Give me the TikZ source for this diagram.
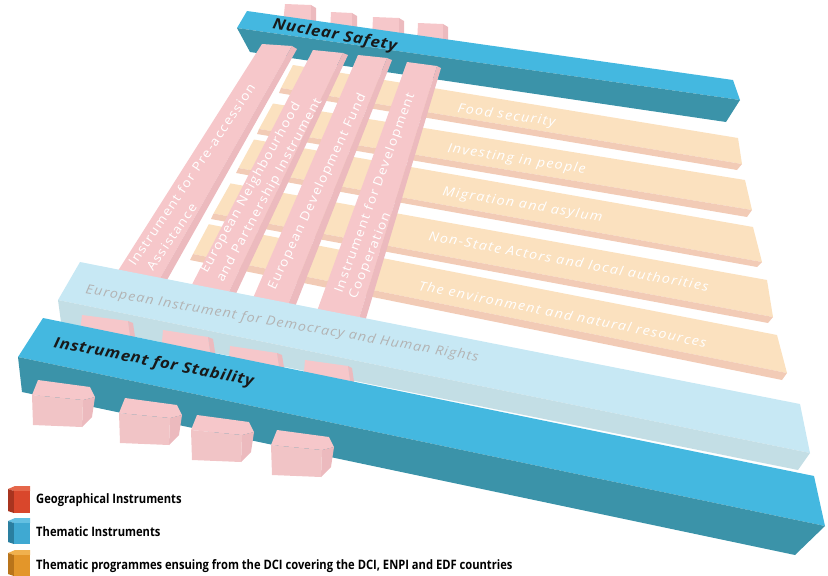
\documentclass[tikz,border=0pt]{standalone}
\usepackage{fontspec}
\setmainfont{Open Sans}
\newfontfamily\legfont{Open Sans}[FakeStretch=0.86]
\newfontfamily\widefont{Open Sans}[FakeStretch=1.1]
\newfontfamily\darkfont{Open Sans}[FakeStretch=1.12, LetterSpace=5]
\definecolor{tealtop}{HTML}{44B8E0}
\definecolor{tealfront}{HTML}{3B93A9}
\definecolor{lbtop}{HTML}{C7E8F4}
\definecolor{lbfront}{HTML}{C3DEE5}
\definecolor{pinktop}{HTML}{F6C7CA}
\definecolor{pinkside}{HTML}{ECBABE}
\definecolor{pinkfront}{HTML}{F1C4C6}
\definecolor{ortop}{HTML}{FBE1BF}
\definecolor{orfront}{HTML}{F2CBB6}
\definecolor{eidtext}{HTML}{B3B3B3}
\definecolor{redtop}{HTML}{E5674A}
\definecolor{redside}{HTML}{A8341F}
\definecolor{redfront}{HTML}{D9472C}
\definecolor{bltop}{HTML}{63C0E2}
\definecolor{blside}{HTML}{2A7FA0}
\definecolor{blfront}{HTML}{3FA9D2}
\definecolor{ogtop}{HTML}{F0B14E}
\definecolor{ogside}{HTML}{B9741A}
\definecolor{ogfront}{HTML}{E3962A}
\tikzset{
  pinklbl/.style={text=white, font=\widefont\addfontfeatures{LetterSpace=10}\fontsize{12.5}{13}\selectfont, anchor=base west, inner sep=0pt},
  orlbl/.style={text=white, font=\widefont\addfontfeatures{LetterSpace=10.5}\itshape\fontsize{13}{14}\selectfont, anchor=base west, inner sep=0pt},
  darklbl/.style={text=black!90, font=\darkfont\bfseries\itshape\fontsize{15}{16}\selectfont, anchor=base west, inner sep=0pt},
  eidlbl/.style={text=eidtext, font=\widefont\addfontfeatures{LetterSpace=8.5}\itshape\fontsize{13}{14}\selectfont, anchor=base west, inner sep=0pt},
  leglbl/.style={text=black, font=\legfont\bfseries\fontsize{13}{14}\selectfont, anchor=base west, inner sep=0pt},
  pinkstub/.pic={
    \fill[pinktop] (0,0)--(52,7)--(57,17)--(45,20)--(-6,15)--cycle;
    \fill[pinkside] (45,20)--(57,17)--(54,37)--(44,47)--cycle;
    \fill[pinkfront] (-6,15)--(45,20)--(44,47)--(-5,45)--cycle;
  }
}
\begin{document}
\begin{tikzpicture}[x=1pt,y=-1pt]
\useasboundingbox (0,0) rectangle (828,576);
% pink stubs behind Nuclear Safety
\fill[pinktop] (285,4)--(311,5)--(311,24)--(283,24)--cycle;
\fill[pinkside] (311,5)--(316,8)--(316,24)--(311,24)--cycle;
\fill[pinktop] (331,12)--(352,13)--(352,32)--(330,32)--cycle;
\fill[pinkside] (352,13)--(357,16)--(357,32)--(352,32)--cycle;
\fill[pinktop] (373,17)--(399,18)--(399,38)--(372,38)--cycle;
\fill[pinkside] (399,18)--(404,21)--(404,38)--(399,38)--cycle;
\fill[pinktop] (418,23)--(443,24)--(443,44)--(417,44)--cycle;
\fill[pinkside] (443,24)--(448,27)--(448,44)--(443,44)--cycle;
% Nuclear Safety bar
\fill[tealtop] (247,11)--(733,80)--(740,100)--(237,28)--cycle;
\fill[tealfront] (237,28)--(740,100)--(726,122)--(250,52)--cycle;
\node[darklbl, rotate=-10.5] (ns) at (272,28) {Nuclear Safety};
% orange thematic programme bars
\fill[ortop] (293,65)--(738,138)--(742,164)--(281,88)--cycle;
\fill[orfront] (281,88)--(742,164)--(737,170)--(279,93)--cycle;
\fill[ortop] (273,103.5)--(745,180)--(752,210)--(259,129)--cycle;
\fill[orfront] (259,129)--(752,210)--(747,217)--(257,134)--cycle;
\fill[ortop] (254,139.5)--(753,227)--(762,262)--(238.5,168)--cycle;
\fill[orfront] (238.5,168)--(762,262)--(757,267)--(236,173)--cycle;
\fill[ortop] (230.5,183.4)--(767,280)--(773,317)--(213.5,213.5)--cycle;
\fill[orfront] (213.5,213.5)--(773,317)--(768,323)--(211,219)--cycle;
\fill[ortop] (208.8,224.2)--(777,335)--(787,373)--(193,254)--cycle;
\fill[orfront] (193,254)--(787,373)--(782,380)--(190,260)--cycle;
\node[orlbl, rotate=-8.5] (fs) at (457,112) {Food security};
\node[orlbl, rotate=-9] (ip) at (447,152) {Investing in people};
\node[orlbl, rotate=-9.5] (ma) at (442,195) {Migration and asylum};
\node[orlbl, rotate=-10.4] (nsa) at (428,240) {Non-State Actors and local authorities};
\node[orlbl, rotate=-11.3] (env) at (418,290) {The environment and natural resources};
% pink geographical bars
\fill[pinktop] (262,44)--(292,46)--(150,296)--(102,296)--cycle;
\fill[pinkside] (292,46)--(297,49)--(158,296)--(150,296)--cycle;
\fill[pinktop] (313,50)--(343,53)--(225,300)--(184,300)--cycle;
\fill[pinkside] (343,53)--(348,55)--(233,300)--(225,300)--cycle;
\fill[pinktop] (358,55)--(387,58)--(285,312)--(247,312)--cycle;
\fill[pinkside] (387,58)--(392,60)--(293,312)--(285,312)--cycle;
\fill[pinktop] (407,62)--(437,66)--(357,325)--(312,325)--cycle;
\fill[pinkside] (437,66)--(441,68)--(364,325)--(357,325)--cycle;
\node[pinklbl, rotate=56] (ipa1) at (135,267) {Instrument for Pre-accession};
\node[pinklbl, rotate=55.5] (ipa2) at (153,272) {Assistance};
\node[pinklbl, rotate=61] (enp1) at (207,274) {European Neighbourhood};
\node[pinklbl, rotate=61.5] (enp2) at (223,283) {and Partnership Instrument};
\node[pinklbl, rotate=65] (edf) at (275,291) {European Development Fund};
\node[pinklbl, rotate=70] (dci1) at (342,294) {Instrument for Development};
\node[pinklbl, rotate=68] (dci2) at (356,300) {Cooperation};
% EIDHR bar
\fill[lbtop] (80,262)--(800,404)--(810,453)--(58,300)--cycle;
\fill[lbfront] (58,300)--(810,453)--(798,470)--(61,322)--cycle;
\node[eidlbl, rotate=-9.9] (eid) at (85,293) {European Instrument for Democracy and Human Rights};
% pink stubs between EIDHR and Stability
\fill[pinktop] (82,315)--(128,321)--(132,350)--(78,350)--cycle;
\fill[pinkside] (128,321)--(133,323)--(137,350)--(132,350)--cycle;
\fill[pinktop] (163,330)--(208,337)--(212,365)--(160,365)--cycle;
\fill[pinkside] (208,337)--(213,339)--(217,365)--(212,365)--cycle;
\fill[pinktop] (230,346)--(277,353)--(281,380)--(227,380)--cycle;
\fill[pinkside] (277,353)--(282,355)--(286,380)--(281,380)--cycle;
\fill[pinktop] (305,360)--(348,366)--(352,395)--(302,395)--cycle;
\fill[pinkside] (348,366)--(352,368)--(356,395)--(352,395)--cycle;
% Stability bar
\fill[tealtop] (43,318)--(814,476)--(825,526)--(18,357)--cycle;
\fill[tealfront] (18,357)--(825,526)--(795,555)--(22,392)--cycle;
\node[darklbl, rotate=-11] (ifs) at (53,347) {Instrument for Stability};
% pink stubs in front of Stability
\pic at (38,380) {pinkstub};
\pic at (125,398) {pinkstub};
\pic at (197,415) {pinkstub};
\pic at (277,430) {pinkstub};
% legend
\begin{scope}[shift={(8,486)}]
\fill[redtop] (0,3)--(7,0)--(22,0)--(22,5)--(6,5)--cycle;
\fill[redside] (0,3)--(6,5)--(6,27)--(0,25)--cycle;
\fill[redfront] (6,5) rectangle (22,27);
\end{scope}
\begin{scope}[shift={(8,518)}]
\fill[bltop] (0,3)--(7,0)--(22,0)--(22,5)--(6,5)--cycle;
\fill[blside] (0,3)--(6,5)--(6,26)--(0,24)--cycle;
\fill[blfront] (6,5) rectangle (22,26);
\end{scope}
\begin{scope}[shift={(8,550)}]
\fill[ogtop] (0,3)--(7,0)--(22,0)--(22,5)--(6,5)--cycle;
\fill[ogside] (0,3)--(6,5)--(6,26)--(0,24)--cycle;
\fill[ogfront] (6,5) rectangle (22,26);
\end{scope}
\node[leglbl] (lg1) at (36,503) {Geographical Instruments};
\node[leglbl] (lg2) at (36,536) {Thematic Instruments};
\node[leglbl] (lg3) at (36,569) {Thematic programmes ensuing from the DCI covering the DCI, ENPI and EDF countries};
\end{tikzpicture}
\end{document}
